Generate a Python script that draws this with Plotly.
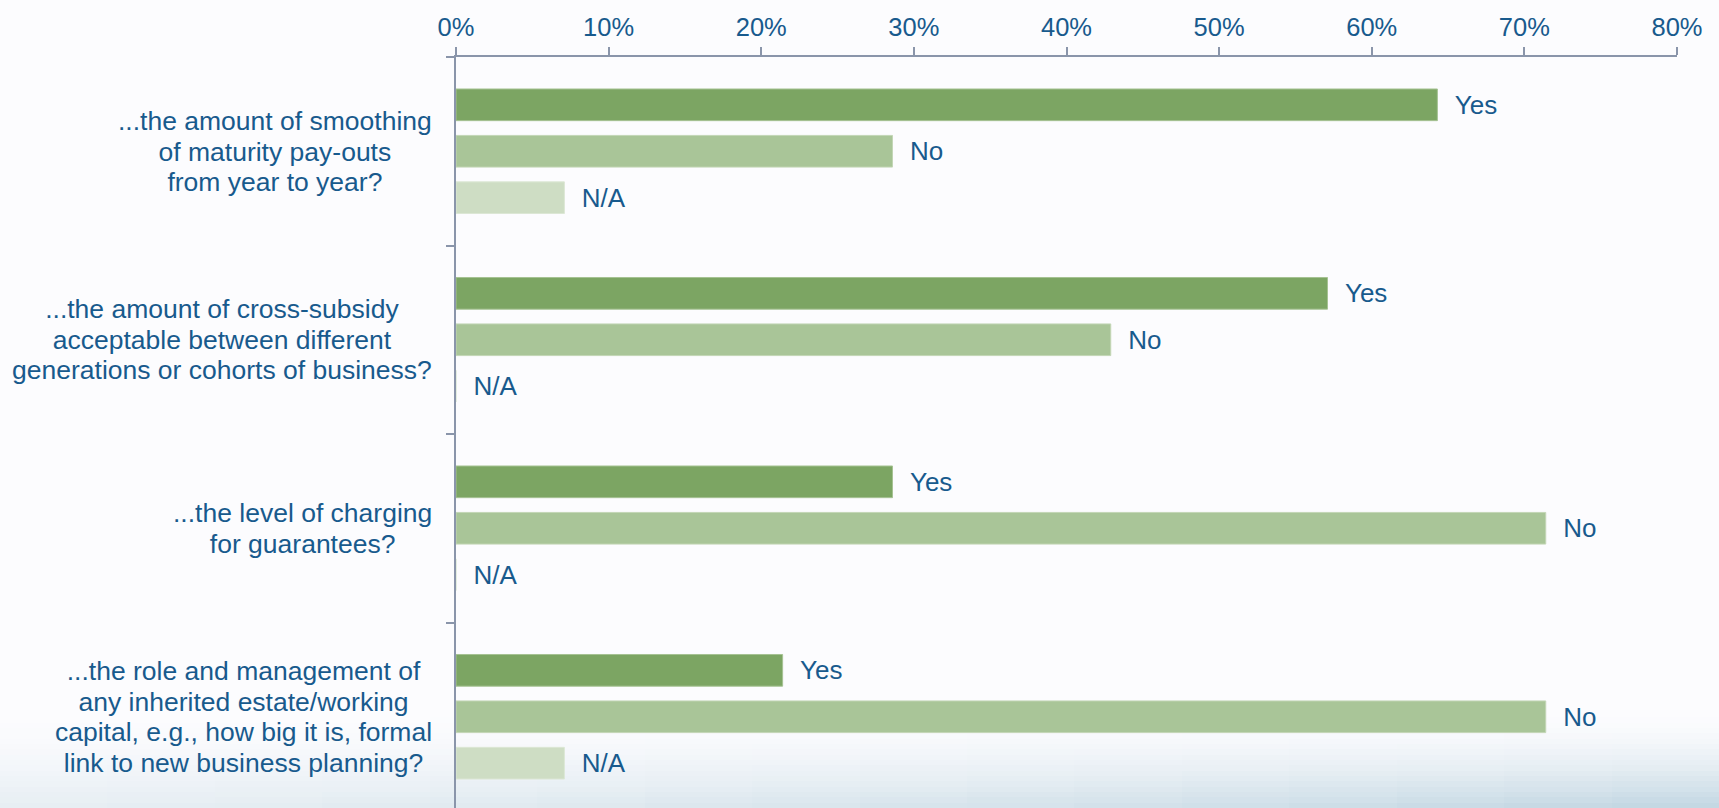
import plotly.graph_objects as go

# ---- data ----
categories = ["smoothing", "cross-subsidy", "charging", "estate"]
category_lines = [
    ["...the amount of smoothing", "of maturity pay-outs", "from year to year?"],
    ["...the amount of cross-subsidy", "acceptable between different", "generations or cohorts of business?"],
    ["...the level of charging", "for guarantees?"],
    ["...the role and management of", "any inherited estate/working",
     "capital, e.g., how big it is, formal", "link to new business planning?"],
]
series_names = ["Yes", "No", "N/A"]
yes_vals = [64.3, 57.1, 28.6, 21.4]
no_vals = [28.6, 42.9, 71.4, 71.4]
na_vals = [7.1, 0.0, 0.0, 7.1]
x_ticks = [0, 10, 20, 30, 40, 50, 60, 70, 80]
x_tick_labels = [f"{v}%" for v in x_ticks]

# ---- style ----
W, H = 1719, 808
M_L, M_R, M_T, M_B = 456, 42, 57, 0
TEXT = "#185A8D"
AXIS = "#8A95AA"
COLORS = ["#7CA563", "#A9C598", "#CEDDC4"]
OUTLINES = ["#A6C293", "#C3D6B6", "#DCE7D5"]
FONT = "Liberation Sans, Arial, sans-serif"
NB = "\u00a0\u00a0"

fig = go.Figure()
for name, vals, col, ol in zip(series_names, [yes_vals, no_vals, na_vals], COLORS, OUTLINES):
    fig.add_trace(go.Bar(
        y=categories, x=vals, orientation="h", name=name,
        marker=dict(color=col, line=dict(color=ol, width=1)),
        text=[NB + name] * len(vals), textposition="outside",
        textfont=dict(size=26, color=TEXT, family=FONT),
        cliponaxis=False, constraintext="none", hoverinfo="skip",
    ))

annotations = []
for cat, lines in zip(categories, category_lines):
    txt = "<br>".join(f"<span style='font-size:26.5px'>{ln}</span>" for ln in lines)
    annotations.append(dict(
        x=0, xref="paper", y=cat, yref="y", text=txt, showarrow=False,
        xanchor="right", yanchor="middle", align="center", xshift=-22,
        font=dict(size=23.5, color=TEXT, family=FONT),
    ))

# soft bluish gradient along the bottom edge (decoration)
shapes = []
plot_w = W - M_L - M_R
plot_h = H - M_T - M_B
rows, cols = 18, 16
g_top, g_bot = 712, 808
row_edges = [round(g_top + (g_bot - g_top) * r / rows) for r in range(rows + 1)]
col_edges = [round(W * c / cols) for c in range(cols + 1)]
for r in range(rows):
    py0, py1 = row_edges[r], row_edges[r + 1]
    t = ((r + 0.5) / rows) ** 1.7
    for c in range(cols):
        px0, px1 = col_edges[c], col_edges[c + 1]
        cf = (c + 0.5) / cols
        a = t * (0.30 + 0.52 * cf ** 1.4)
        shapes.append(dict(
            type="rect", xref="paper", yref="paper", layer="below",
            x0=(px0 - M_L) / plot_w, x1=(px1 - M_L) / plot_w,
            y0=(H - M_B - py1) / plot_h, y1=(H - M_B - py0) / plot_h,
            line=dict(width=0), fillcolor=f"rgba(178,204,218,{a:.3f})",
        ))

fig.update_layout(
    width=W, height=H,
    margin=dict(l=M_L, r=M_R, t=M_T, b=M_B, pad=0),
    paper_bgcolor="#FCFCFE", plot_bgcolor="rgba(0,0,0,0)",
    barmode="group", bargap=0.261, bargroupgap=0.318,
    showlegend=False, font=dict(family=FONT, color=TEXT),
    annotations=annotations, shapes=shapes,
    xaxis=dict(
        range=[0, 80], side="top", tickvals=x_ticks, ticktext=x_tick_labels,
        showline=True, linecolor=AXIS, linewidth=2,
        ticks="outside", ticklen=8, tickwidth=2, tickcolor=AXIS,
        showgrid=False, zeroline=False,
        tickfont=dict(size=25.5, color=TEXT, family=FONT), ticklabelstandoff=1,
    ),
    yaxis=dict(
        type="category", categoryarray=categories, range=[3.484, -0.5],
        showline=True, linecolor=AXIS, linewidth=2,
        ticks="outside", tickson="boundaries", ticklen=8, tickwidth=2, tickcolor=AXIS,
        showticklabels=False, showgrid=False, zeroline=False,
    ),
)

fig.write_html("out.html")
